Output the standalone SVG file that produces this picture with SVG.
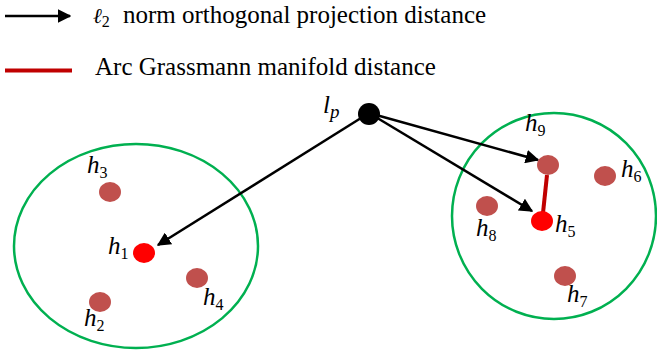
<svg xmlns="http://www.w3.org/2000/svg" width="657" height="352" viewBox="0 0 657 352">
<style>
.t{font-family:"Liberation Serif","Times New Roman",serif;font-size:25px;fill:#000}
.m{font-family:"Liberation Serif","Times New Roman",serif;font-style:italic;font-size:25px;fill:#000}
.s{font-style:normal;font-size:16px}
.clu{fill:none;stroke:#00B050;stroke-width:2.5}
.pt{fill:#C0504D}
.ctr{fill:#FF0000}
.arr{stroke:#000;stroke-width:2.5;fill:none;marker-end:url(#ah)}
</style>
<defs>
<marker id="ah" viewBox="0 0 10 10" refX="9" refY="5" markerWidth="5.5" markerHeight="5.5" orient="auto" markerUnits="strokeWidth">
<path d="M0,0 L10,5 L0,10 z" fill="#000"/>
</marker>
</defs>
<g id="legend">
<line x1="5" y1="16" x2="70" y2="16" class="arr"/>
<text class="t" x="93" y="23"><tspan font-style="italic" font-family="DejaVu Serif, serif" font-size="21">ℓ</tspan><tspan font-size="16" dy="4">2</tspan><tspan dy="-4" x="123">norm orthogonal projection distance</tspan></text>
<line x1="5" y1="70.5" x2="72" y2="70.5" stroke="#C00000" stroke-width="4"/>
<text class="t" x="95" y="75">Arc Grassmann manifold distance</text>
</g>
<g id="cluster1">
<ellipse class="clu" cx="136" cy="246" rx="122" ry="102"/>
</g>
<g id="cluster2">
<ellipse class="clu" cx="554" cy="216" rx="102" ry="103"/>
</g>
<g id="connectors">
<line class="arr" x1="369" y1="113" x2="158" y2="245"/>
<line class="arr" x1="369" y1="113" x2="538" y2="160"/>
<line class="arr" x1="369" y1="113" x2="532" y2="211"/>
<line x1="547" y1="175" x2="543" y2="213" stroke="#C00000" stroke-width="4"/>
</g>
<g id="lp"><circle cx="369" cy="114" r="11" fill="#000"/><text class="m" x="323" y="113" font-size="28">l<tspan font-size="19" dy="5">p</tspan></text></g>
<g id="h1"><ellipse class="ctr" cx="144" cy="253" rx="11" ry="10"/><text class="m" x="108" y="254">h<tspan class="s" dy="5">1</tspan></text></g>
<g id="h2"><ellipse class="pt" cx="100" cy="302" rx="11" ry="10"/><text class="m" x="84" y="326">h<tspan class="s" dy="5">2</tspan></text></g>
<g id="h3"><ellipse class="pt" cx="110" cy="192" rx="11" ry="10"/><text class="m" x="87" y="173">h<tspan class="s" dy="5">3</tspan></text></g>
<g id="h4"><ellipse class="pt" cx="197" cy="278" rx="11" ry="10"/><text class="m" x="203" y="305">h<tspan class="s" dy="5">4</tspan></text></g>
<g id="h5"><ellipse class="ctr" cx="542" cy="221" rx="11" ry="10"/><text class="m" x="555" y="232">h<tspan class="s" dy="5">5</tspan></text></g>
<g id="h6"><ellipse class="pt" cx="605" cy="176" rx="11" ry="10"/><text class="m" x="621" y="177">h<tspan class="s" dy="5">6</tspan></text></g>
<g id="h7"><ellipse class="pt" cx="565" cy="276" rx="11" ry="10"/><text class="m" x="567" y="302">h<tspan class="s" dy="5">7</tspan></text></g>
<g id="h8"><ellipse class="pt" cx="487" cy="206" rx="11" ry="10"/><text class="m" x="476" y="236">h<tspan class="s" dy="5">8</tspan></text></g>
<g id="h9"><ellipse class="pt" cx="548" cy="165" rx="11" ry="10"/><text class="m" x="525" y="131">h<tspan class="s" dy="5">9</tspan></text></g>
</svg>
